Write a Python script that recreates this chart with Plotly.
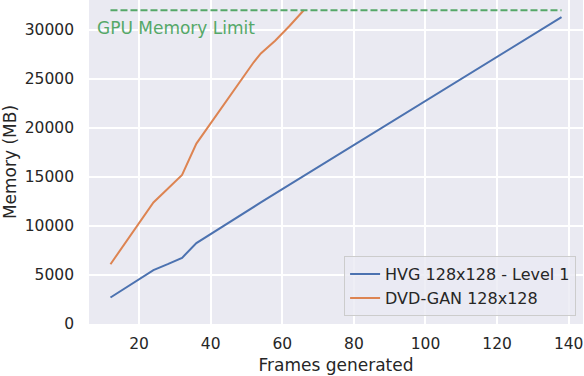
import plotly.graph_objects as go

hvg_frames = [12, 16, 20, 24, 28, 32, 36, 42, 48, 54, 60, 66, 72, 78, 84, 90, 96, 102, 108, 114, 120, 126, 132, 138]
hvg_memory = [2700, 3650, 4600, 5500, 6100, 6750, 8250, 9650, 11050, 12400, 13750, 15100, 16450, 17800,
              19150, 20500, 21850, 23200, 24550, 25900, 27250, 28600, 29950, 31300]

dvd_frames = [12, 16, 20, 24, 28, 32, 36, 40, 44, 48, 52, 54, 58, 62, 66]
dvd_memory = [6100, 8200, 10300, 12400, 13800, 15200, 18400, 20500, 22600, 24700, 26700, 27600, 28900, 30400, 32000]

limit_frames = [12, 138]
limit_memory = [32000, 32000]

x_ticks = [20, 40, 60, 80, 100, 120, 140]
y_ticks = [0, 5000, 10000, 15000, 20000, 25000, 30000]

FONT = "DejaVu Sans"
TXT = "#262626"

fig = go.Figure()
fig.add_trace(go.Scatter(x=hvg_frames, y=hvg_memory, mode="lines", name="HVG 128x128 - Level 1",
                         line=dict(color="#4C72B0", width=2)))
fig.add_trace(go.Scatter(x=dvd_frames, y=dvd_memory, mode="lines", name="DVD-GAN 128x128",
                         line=dict(color="#DD8452", width=2)))
fig.add_trace(go.Scatter(x=limit_frames, y=limit_memory, mode="lines", showlegend=False,
                         line=dict(color="#55A868", width=2, dash="7px,3px")))

fig.add_annotation(x=7.7, y=30150, xref="x", yref="y", text="GPU Memory Limit", showarrow=False,
                   xanchor="left", yanchor="middle", font=dict(family=FONT, size=17, color="#55A868"))

fig.update_layout(
    width=584, height=376,
    margin=dict(l=89, r=1, t=0, b=52),
    paper_bgcolor="white", plot_bgcolor="#EAEAF2",
    font=dict(family=FONT, size=15.5, color=TXT),
    legend=dict(x=0.986, y=0.024, xanchor="right", yanchor="bottom", itemwidth=30,
                bgcolor="rgba(234,234,242,0.8)", bordercolor="#CCCCCC", borderwidth=1,
                font=dict(family=FONT, size=16, color=TXT)),
    showlegend=True,
)
fig.update_xaxes(range=[6.0, 144.0], tickvals=x_ticks, showgrid=True, gridcolor="white", gridwidth=1.5,
                 zeroline=False, showline=False, ticks="", ticklabelstandoff=8,
                 title=dict(text="Frames generated", font=dict(size=17, family=FONT, color=TXT), standoff=7),
                 tickfont=dict(size=15.5))
fig.update_yaxes(range=[0, 33050], tickvals=y_ticks, tickformat="d", showgrid=True, gridcolor="white", gridwidth=1.5,
                 zeroline=False, showline=False, ticks="", ticklabelstandoff=14,
                 title=dict(text="Memory (MB)", font=dict(size=17, family=FONT, color=TXT), standoff=6),
                 tickfont=dict(size=15.5))

fig.write_html("out.html", config={"displayModeBar": False},
               post_script="document.body.style.margin='0';")
